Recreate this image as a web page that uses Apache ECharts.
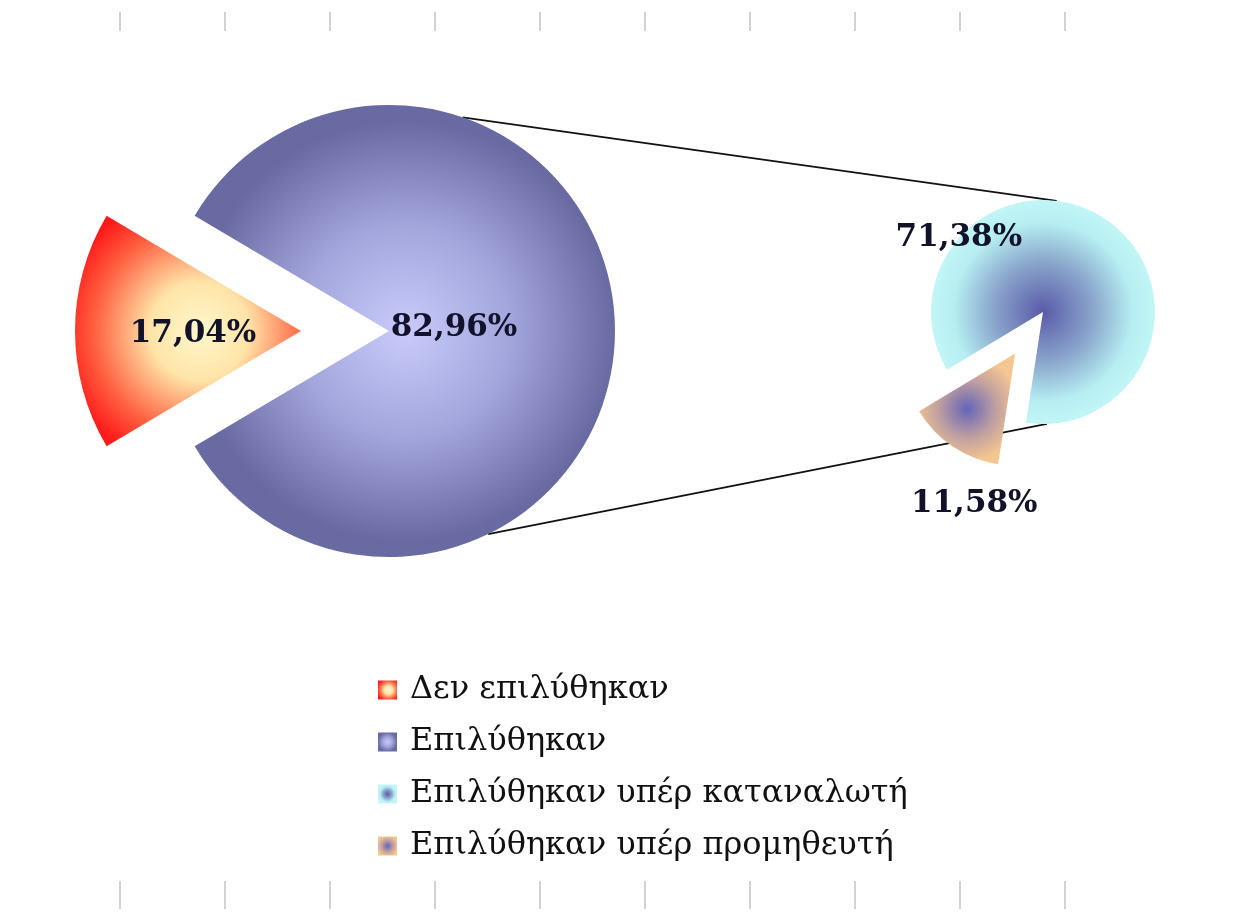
<!DOCTYPE html>
<html>
<head>
<meta charset="utf-8">
<script src="https://cdn.jsdelivr.net/npm/echarts@6/dist/echarts.min.js"></script>
<style>
html,body{margin:0;padding:0;background:#fff;}
#chart{width:1238px;height:912px;}
</style>
</head>
<body>
<div id="chart"></div>
<script>
// ---- data ----
const mainNames = ['Δεν επιλύθηκαν', 'Επιλύθηκαν'];
const mainValues = [17.04, 82.96];
const subNames = ['Επιλύθηκαν υπέρ καταναλωτή', 'Επιλύθηκαν υπέρ προμηθευτή'];
const subValues = [71.38, 11.58];

// ---- layout / style ----
const MAIN_CENTER = [389, 331], MAIN_R = 226;
const SUB_CENTER = [1043, 312], SUB_R = 112;
const LINK_ANGLES = { mainTop: 71, subTop: 83, mainBottom: -64, subBottom: -88 };

function rg(stops, cx, cy, r) {
  return { type: 'radial', x: cx, y: cy, r: r,
    colorStops: stops.map(s => ({ offset: s[0], color: s[1] })) };
}
const mainColors = [
  rg([[0, '#fff8cc'], [0.35, '#ffe4a8'], [0.75, '#ff6040'], [1, '#ff1a1a']], 0.55, 0.5, 0.62),
  rg([[0, '#c8cbfa'], [0.5, '#a3a6dc'], [1, '#6a6aa3']], 0.5, 0.5, 0.5)
];
const subColors = [
  rg([[0, '#5a5aa8'], [0.45, '#8aa6cc'], [0.8, '#b6eef2'], [1, '#c2f6f6']], 0.5, 0.5, 0.5),
  rg([[0, '#6464b8'], [0.55, '#c0a0a0'], [1, '#f4c690']], 0.5, 0.5, 0.55)
];
const mainLabelShift = [{ dx: 8, dy: 3 }, { dx: -51, dy: -3 }];
const subLabelShift = [{ dx: -117, dy: -25 }, { dx: -8, dy: 101 }];

function fmt(p) { return p.value.toFixed(2).replace('.', ',') + '%'; }
function pt(c, r, deg) {
  const a = deg * Math.PI / 180;
  return [c[0] + r * Math.cos(a), c[1] - r * Math.sin(a)];
}

const mainData = mainNames.map((n, i) => ({ name: n, value: mainValues[i], selected: i === 0, itemStyle: { color: mainColors[i] } }));
const subData = subNames.map((n, i) => ({ name: n, value: subValues[i], selected: i === 1, itemStyle: { color: subColors[i] } }));

const labelStyle = { show: true, position: 'inside', formatter: fmt, fontFamily: 'DejaVu Serif', fontWeight: 'bold', fontSize: 31, color: '#12122a' };

const t1 = pt(MAIN_CENTER, MAIN_R, LINK_ANGLES.mainTop), t2 = pt(SUB_CENTER, SUB_R, LINK_ANGLES.subTop);
const b1 = pt(MAIN_CENTER, MAIN_R, LINK_ANGLES.mainBottom), b2 = pt(SUB_CENTER, SUB_R, LINK_ANGLES.subBottom);

const tickAxis = (gi) => ({ type: 'value', gridIndex: gi, min: 0, max: 9, interval: 1, axisLine: { show: false }, axisLabel: { show: false }, splitLine: { show: false } });

const chart = echarts.init(document.getElementById('chart'), null, { renderer: 'canvas' });
chart.setOption({
  animation: false,
  backgroundColor: '#ffffff',
  grid: [
    { left: 120, right: 173, top: 21, height: 10, outerBoundsMode: 'none', containLabel: false },
    { left: 120, right: 173, bottom: 31, height: 10, outerBoundsMode: 'none', containLabel: false }
  ],
  xAxis: [
    Object.assign(tickAxis(0), { position: 'top', axisTick: { show: true, length: 19, lineStyle: { color: '#c4c4c4', width: 1.5 } } }),
    Object.assign(tickAxis(1), { position: 'bottom', axisTick: { show: true, length: 28, lineStyle: { color: '#c4c4c4', width: 1.5 } } })
  ],
  yAxis: [
    { type: 'value', gridIndex: 0, show: false },
    { type: 'value', gridIndex: 1, show: false }
  ],
  graphic: [
    { type: 'line', z: 0, shape: { x1: t1[0], y1: t1[1], x2: t2[0], y2: t2[1] }, style: { stroke: '#111', lineWidth: 1.8 } },
    { type: 'line', z: 0, shape: { x1: b1[0], y1: b1[1], x2: b2[0], y2: b2[1] }, style: { stroke: '#111', lineWidth: 1.8 } }
  ],
  legend: {
    orient: 'vertical', left: 378, top: 674, padding: 0,
    data: mainNames.concat(subNames),
    icon: 'rect', itemWidth: 19, itemHeight: 19, itemGap: 20,
    textStyle: { fontFamily: 'DejaVu Serif', fontSize: 32, color: '#111', padding: [0, 0, 0, 8] },
    selectedMode: false
  },
  series: [
    {
      type: 'pie', center: MAIN_CENTER, radius: MAIN_R, startAngle: 180 + 180 * mainValues[0] / 100,
      selectedMode: 'multiple', selectedOffset: 88, data: mainData,
      label: labelStyle, labelLine: { show: false },
      labelLayout: p => mainLabelShift[p.dataIndex],
      emphasis: { disabled: true }, select: { itemStyle: { borderWidth: 0 } }
    },
    {
      type: 'pie', center: SUB_CENTER, radius: SUB_R, startAngle: 211,
      selectedMode: 'multiple', selectedOffset: 50, data: subData,
      label: labelStyle, labelLine: { show: false },
      labelLayout: p => subLabelShift[p.dataIndex],
      emphasis: { disabled: true }, select: { itemStyle: { borderWidth: 0 } }
    }
  ]
});
</script>
</body>
</html>
